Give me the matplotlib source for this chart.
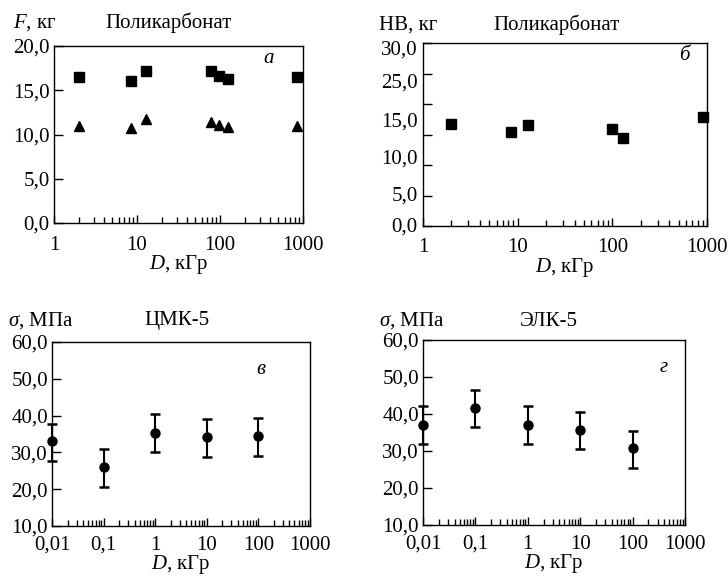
import matplotlib
matplotlib.use("Agg")
import matplotlib.pyplot as plt
import matplotlib.ticker as mticker

plt.rcParams["font.family"] = ["Liberation Serif", "DejaVu Serif"]
plt.rcParams["mathtext.fontset"] = "custom"
plt.rcParams["mathtext.rm"] = "Liberation Serif"
plt.rcParams["mathtext.it"] = "Liberation Serif:italic"
plt.rcParams["font.size"] = 15

# panel a: F, kg vs dose (polycarbonate)
a_dose = [2, 8.5, 12.8, 78, 97, 125, 850]
a_square = [16.5, 16.05, 17.2, 17.15, 16.6, 16.3, 16.5]
a_triangle = [11.0, 10.75, 11.7, 11.45, 11.05, 10.8, 10.95]

# panel b: HB, kg vs dose (polycarbonate)
b_dose = [2, 8.5, 13, 100, 130, 900]
b_hb = [16.8, 15.4, 16.5, 15.9, 14.4, 17.9]
b_tick_values = [0, 5, 10, 15, 20, 25, 30]
b_label_pos = [0.2, 5.4, 11.4, 17.4, 23.8, 29.2]
b_labels = ["0,0", "5,0", "10,0", "15,0", "25,0", "30,0"]

# panel c: sigma, MPa (ЦМК-5)
c_dose = [0.01, 0.1, 1, 10, 100]
c_mean = [33.0, 25.9, 35.4, 34.2, 34.5]
c_low = [27.7, 20.6, 30.2, 28.8, 29.0]
c_high = [37.8, 30.8, 40.3, 39.0, 39.3]

# panel d: sigma, MPa (ЭЛК-5)
d_dose = [0.01, 0.1, 1, 10, 100]
d_mean = [37.0, 41.7, 37.0, 35.7, 30.7]
d_low = [32.0, 36.5, 32.0, 30.5, 25.5]
d_high = [42.2, 46.6, 42.2, 40.6, 35.4]


def comma(v, pos=None):
    return f"{v:.1f}".replace(".", ",")


def dose_label(v, pos=None):
    if v >= 1:
        return str(int(round(v)))
    return f"{v:g}".replace(".", ",")


W, H = 728, 577
fig = plt.figure(figsize=(W / 100, H / 100), dpi=100)


def make_axes(l, t, r, b):
    return fig.add_axes([l / W, 1 - b / H, (r - l) / W, (b - t) / H])


def style(ax, xmin, xmax, pad=9, labelpad=-1):
    ax.set_xscale("log")
    ax.set_xlim(xmin, xmax)
    ax.xaxis.set_major_locator(mticker.LogLocator(base=10))
    ax.xaxis.set_minor_locator(mticker.LogLocator(base=10, subs=range(2, 10)))
    ax.xaxis.set_major_formatter(mticker.FuncFormatter(dose_label))
    ax.xaxis.set_minor_formatter(mticker.NullFormatter())
    ax.tick_params(axis="both", which="both", direction="in", top=False, right=False, width=1)
    ax.tick_params(axis="x", which="major", length=6, pad=pad)
    ax.tick_params(axis="x", which="minor", length=4)
    ax.tick_params(axis="y", which="major", length=6.5, pad=3)
    ax.tick_params(axis="y", which="minor", left=False)
    ax.set_xlabel("$D$, кГр", labelpad=labelpad)
    for s in ax.spines.values():
        s.set_linewidth(1.0)


# a
ax = make_axes(54, 46, 303, 223)
style(ax, 1, 1000)
ax.set_ylim(0, 20)
ax.set_yticks([0, 5, 10, 15, 20])
ax.yaxis.set_major_formatter(mticker.FuncFormatter(comma))
ax.plot(a_dose, a_square, "s", color="black", ms=7.5, clip_on=False)
ax.plot(a_dose, a_triangle, "^", color="black", ms=7.5, clip_on=False)
ax.text(0.86, 0.93, "а", transform=ax.transAxes, style="italic", ha="center", va="center")
fig.text(13 / W, 1 - 23 / H, "$F$, кг", ha="left", va="center")
fig.text(169 / W, 1 - 23 / H, "Поликарбонат", ha="center", va="center")

# b
ax = make_axes(423, 43, 707, 226)
style(ax, 1, 1000)
ax.set_ylim(0, 30)
ax.set_yticks(b_label_pos)
ax.set_yticklabels(b_labels)
ax.tick_params(axis="y", which="major", length=0, pad=4)
ax.set_yticks(b_tick_values, minor=True)
ax.tick_params(axis="y", which="minor", left=True, length=6.5, width=1)
ax.plot(b_dose, b_hb, "s", color="black", ms=7.5, clip_on=False)
ax.text(0.92, 0.93, "б", transform=ax.transAxes, style="italic", ha="center", va="center")
fig.text(379 / W, 1 - 25 / H, "HB, кг", ha="left", va="center")
fig.text(557 / W, 1 - 25 / H, "Поликарбонат", ha="center", va="center")

# c
ax = make_axes(52, 342, 310, 526)
style(ax, 0.01, 1000, pad=7, labelpad=-1)
ax.set_ylim(10, 60)
ax.set_yticks([10, 20, 30, 40, 50, 60])
ax.yaxis.set_major_formatter(mticker.FuncFormatter(comma))
c_err = [[m - lo for m, lo in zip(c_mean, c_low)], [hi - m for m, hi in zip(c_mean, c_high)]]
eb = ax.errorbar(c_dose, c_mean, yerr=c_err, fmt="o", color="black", ms=6.5,
                 elinewidth=1.5, capsize=3.5, capthick=1.8)
for art in eb.get_children():
    art.set_clip_on(False)
ax.text(0.81, 0.85, "в", transform=ax.transAxes, style="italic", ha="center", va="center")
fig.text(8 / W, 1 - 321 / H, r"$\sigma$, МПа", ha="left", va="center")
fig.text(177 / W, 1 - 321 / H, "ЦМК-5", ha="center", va="center")

# d
ax = make_axes(423, 340, 685, 525)
style(ax, 0.01, 1000, pad=7, labelpad=-1)
ax.set_ylim(10, 60)
ax.set_yticks([10, 20, 30, 40, 50, 60])
ax.yaxis.set_major_formatter(mticker.FuncFormatter(comma))
d_err = [[m - lo for m, lo in zip(d_mean, d_low)], [hi - m for m, hi in zip(d_mean, d_high)]]
eb = ax.errorbar(d_dose, d_mean, yerr=d_err, fmt="o", color="black", ms=6.5,
                 elinewidth=1.5, capsize=3.5, capthick=1.8)
for art in eb.get_children():
    art.set_clip_on(False)
ax.text(0.92, 0.85, "г", transform=ax.transAxes, style="italic", ha="center", va="center")
fig.text(379 / W, 1 - 321 / H, r"$\sigma$, МПа", ha="left", va="center")
fig.text(549 / W, 1 - 321 / H, "ЭЛК-5", ha="center", va="center")

fig.savefig("out.png", dpi=100)
